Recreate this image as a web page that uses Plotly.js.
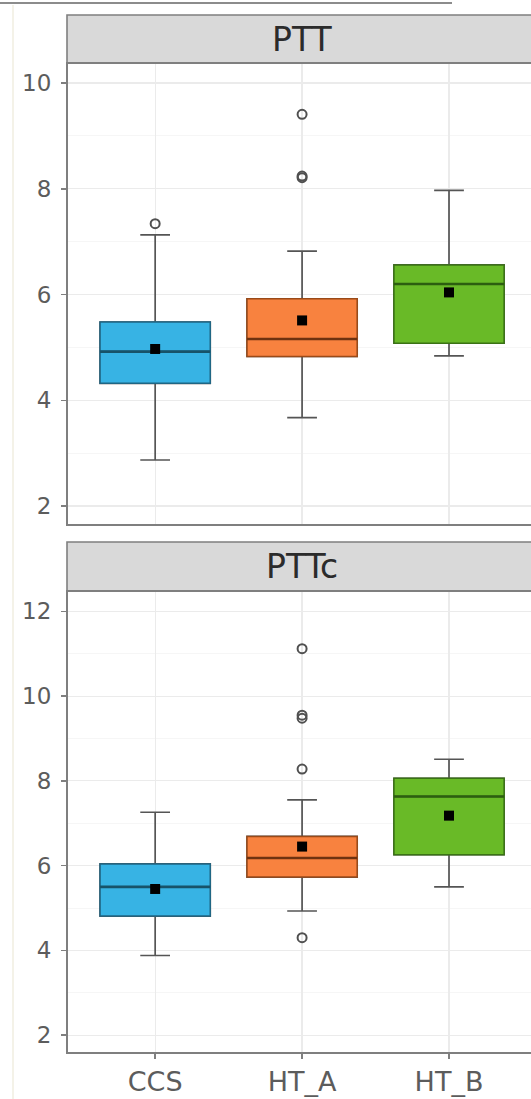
<!DOCTYPE html>
<html>
<head>
<meta charset="utf-8">
<script src="https://cdn.plot.ly/plotly-3.0.1.min.js"></script>
<style>html,body{margin:0;padding:0;background:#fff;}#chart{width:531px;height:1099px;}</style>
</head>
<body>
<div id="chart"></div>
<script>
// ---- data ----
var categories = ['CCS', 'HT_A', 'HT_B'];
var panelTitles = ['PTT', 'PTTc'];

var ptt_q1 = [4.32, 4.83, 5.08];
var ptt_median = [4.92, 5.16, 6.20];
var ptt_q3 = [5.48, 5.92, 6.56];
var ptt_lower = [2.87, 3.67, 4.84];
var ptt_upper = [7.13, 6.82, 7.97];
var ptt_mean = [4.97, 5.51, 6.04];
var ptt_outlier_x = ['CCS', 'HT_A', 'HT_A', 'HT_A'];
var ptt_outlier_y = [7.34, 9.41, 8.21, 8.24];

var pttc_q1 = [4.81, 5.73, 6.26];
var pttc_median = [5.50, 6.18, 7.63];
var pttc_q3 = [6.04, 6.69, 8.06];
var pttc_lower = [3.88, 4.93, 5.50];
var pttc_upper = [7.26, 7.55, 8.51];
var pttc_mean = [5.45, 6.45, 7.18];
var pttc_outlier_x = ['HT_A', 'HT_A', 'HT_A', 'HT_A', 'HT_A'];
var pttc_outlier_y = [11.12, 9.48, 9.55, 8.28, 4.30];

// ---- styles ----
var fillColors = ['#37B3E4', '#F8823F', '#69BA27'];
var edgeColors = ['#1F6684', '#9A4A18', '#3A7215'];
var medianColors = ['#175369', '#6E3210', '#2C5E10'];
var whiskerColor = '#555555';
var FONT = 'DejaVu Sans';

var panels = [
  {q1: ptt_q1, med: ptt_median, q3: ptt_q3, lo: ptt_lower, hi: ptt_upper, mean: ptt_mean, ox: ptt_outlier_x, oy: ptt_outlier_y, xa: 'x', ya: 'y'},
  {q1: pttc_q1, med: pttc_median, q3: pttc_q3, lo: pttc_lower, hi: pttc_upper, mean: pttc_mean, ox: pttc_outlier_x, oy: pttc_outlier_y, xa: 'x2', ya: 'y2'}
];

var traces = [];
panels.forEach(function (p) {
  categories.forEach(function (c, i) {
    var common = {
      type: 'box', x: [c], xaxis: p.xa, yaxis: p.ya, width: 0.75,
      boxpoints: false, hoverinfo: 'skip', showlegend: false
    };
    // whiskers
    traces.push(Object.assign({}, common, {
      q1: [p.q1[i]], median: [p.med[i]], q3: [p.q3[i]],
      lowerfence: [p.lo[i]], upperfence: [p.hi[i]],
      fillcolor: 'rgba(0,0,0,0)', line: {color: whiskerColor, width: 1.7},
      whiskerwidth: 0.27
    }));
    // box body
    traces.push(Object.assign({}, common, {
      q1: [p.q1[i]], median: [p.med[i]], q3: [p.q3[i]],
      lowerfence: [p.q1[i]], upperfence: [p.q3[i]],
      fillcolor: fillColors[i], line: {color: edgeColors[i], width: 1.5},
      whiskerwidth: 0
    }));
    // median line (thicker, darker)
    traces.push(Object.assign({}, common, {
      q1: [p.med[i]], median: [p.med[i]], q3: [p.med[i]],
      lowerfence: [p.med[i]], upperfence: [p.med[i]],
      fillcolor: 'rgba(0,0,0,0)', line: {color: medianColors[i], width: 2.6},
      whiskerwidth: 0
    }));
  });
  // outliers
  traces.push({
    type: 'scatter', mode: 'markers', x: p.ox, y: p.oy, xaxis: p.xa, yaxis: p.ya,
    marker: {symbol: 'circle-open', size: 9, color: '#505050', line: {width: 2, color: '#505050'}},
    hoverinfo: 'skip', showlegend: false
  });
  // means
  traces.push({
    type: 'scatter', mode: 'markers', x: categories, y: p.mean, xaxis: p.xa, yaxis: p.ya,
    marker: {symbol: 'square', size: 10, color: '#000000'},
    hoverinfo: 'skip', showlegend: false
  });
});

// pixel helpers for paper coords
var L = 67, T = 63, B = 46, W = 531, H = 1099;
var plotW = W - L, plotH = H - T - B;
function px(xp) { return (xp - L) / plotW; }
function py(yp) { return (H - B - yp) / plotH; }

var gridMajor = '#EBEBEB', gridMinor = '#F4F4F4', axisCol = '#7F7F7F';
var tickFont = {family: FONT, size: 23, color: '#5C5C5C'};

function xaxisDef(anchor, showLabels) {
  return {
    type: 'category', categoryarray: categories, categoryorder: 'array',
    range: [-0.6, 2.558], anchor: anchor, domain: [0, 1],
    showgrid: true, gridcolor: gridMajor, gridwidth: 1.2,
    zeroline: false, showline: false,
    ticks: showLabels ? 'outside' : '', ticklen: 5, tickwidth: 1.5, tickcolor: axisCol,
    showticklabels: showLabels,
    ticklabelstandoff: 0,
    tickfont: {family: FONT, size: 27, color: '#5C5C5C'}
  };
}
function yaxisDef(anchor, domain, range, t0) {
  return {
    anchor: anchor, domain: domain, range: range,
    tickmode: 'linear', tick0: t0, dtick: 2,
    showgrid: true, gridcolor: gridMajor, gridwidth: 1.2,
    minor: {dtick: 1, tick0: t0, showgrid: true, gridcolor: gridMinor, gridwidth: 0.8, ticks: ''},
    zeroline: false, showline: false,
    ticks: 'outside', ticklen: 5, tickwidth: 1.5, tickcolor: axisCol,
    ticklabelstandoff: 5,
    tickfont: tickFont
  };
}

var topDomain = [py(525), 1];
var botDomain = [0, py(591)];

var shapes = [
  // artifacts of the original screenshot
  {type: 'line', xref: 'paper', yref: 'paper', x0: px(0), x1: px(452), y0: py(3), y1: py(3), line: {color: '#8C8C8C', width: 2}},
  {type: 'line', xref: 'paper', yref: 'paper', x0: px(13), x1: px(13), y0: py(5), y1: py(1099), line: {color: '#F4F2E8', width: 2}},
  // strips
  {type: 'rect', xref: 'paper', yref: 'paper', x0: 0, x1: 1.1, y0: 1, y1: py(15), fillcolor: '#D9D9D9', line: {color: axisCol, width: 1.6}},
  {type: 'rect', xref: 'paper', yref: 'paper', x0: 0, x1: 1.1, y0: py(591), y1: py(542), fillcolor: '#D9D9D9', line: {color: axisCol, width: 1.6}},
  // panel borders
  {type: 'rect', xref: 'paper', yref: 'paper', x0: 0, x1: 1.1, y0: topDomain[0], y1: 1, line: {color: axisCol, width: 2}, layer: 'above'},
  {type: 'rect', xref: 'paper', yref: 'paper', x0: 0, x1: 1.1, y0: 0, y1: py(591), line: {color: axisCol, width: 2}, layer: 'above'}
];

var annotations = [
  {xref: 'paper', yref: 'paper', x: px(302), y: py(39), text: panelTitles[0], showarrow: false,
   font: {family: FONT, size: 33, color: '#2B2B2B'}, xanchor: 'center', yanchor: 'middle'},
  {xref: 'paper', yref: 'paper', x: px(302), y: py(566), text: panelTitles[1], showarrow: false,
   font: {family: FONT, size: 33, color: '#2B2B2B'}, xanchor: 'center', yanchor: 'middle'}
];

var layout = {
  width: W, height: H,
  margin: {l: L, r: 0, t: T, b: B, pad: 0},
  paper_bgcolor: '#FFFFFF', plot_bgcolor: '#FFFFFF',
  boxmode: 'overlay',
  showlegend: false,
  xaxis: xaxisDef('y', false),
  xaxis2: xaxisDef('y2', true),
  yaxis: yaxisDef('x', topDomain, [1.64, 10.38], 2),
  yaxis2: yaxisDef('x2', botDomain, [1.58, 12.48], 2),
  shapes: shapes,
  annotations: annotations
};

Plotly.newPlot('chart', traces, layout, {displayModeBar: false, staticPlot: true});
</script>
</body>
</html>
